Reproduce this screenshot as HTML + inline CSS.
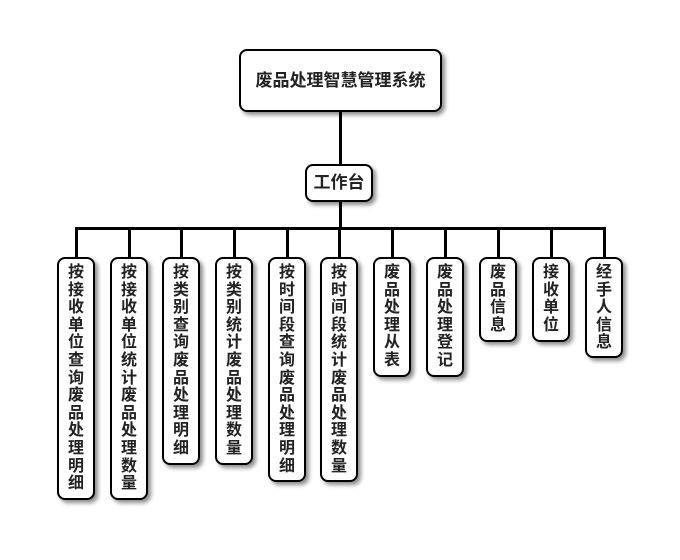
<!DOCTYPE html>
<html><head><meta charset="utf-8"><style>
body{margin:0;width:680px;height:560px;background:#fff;position:relative;font-family:"Liberation Sans","Noto Sans CJK SC",sans-serif;}
.b{position:absolute;background:#fff;border:2px solid #000;border-radius:8px;box-shadow:3px 3px 4px rgba(0,0,0,.45);box-sizing:border-box;font-weight:bold;color:#222;text-align:center;}
.v{width:38px;top:257px;font-size:16px;line-height:17.6px;padding-top:5px;}
.v span{display:block;width:17px;margin:0 auto;word-break:break-all;}
.l{position:absolute;background:#000;}
</style></head><body>
<div class="l" style="left:339px;top:112px;width:3px;height:52px"></div>
<div class="l" style="left:339px;top:202px;width:3px;height:28px"></div>
<div class="l" style="left:75px;top:227px;width:531px;height:3px"></div>
<div class="l" style="left:75px;top:227px;width:3px;height:30px"></div>
<div class="l" style="left:128px;top:227px;width:3px;height:30px"></div>
<div class="l" style="left:180px;top:227px;width:3px;height:30px"></div>
<div class="l" style="left:233px;top:227px;width:3px;height:30px"></div>
<div class="l" style="left:286px;top:227px;width:3px;height:30px"></div>
<div class="l" style="left:338px;top:227px;width:3px;height:30px"></div>
<div class="l" style="left:391px;top:227px;width:3px;height:30px"></div>
<div class="l" style="left:444px;top:227px;width:3px;height:30px"></div>
<div class="l" style="left:497px;top:227px;width:3px;height:30px"></div>
<div class="l" style="left:550px;top:227px;width:3px;height:30px"></div>
<div class="l" style="left:603px;top:227px;width:3px;height:30px"></div>
<div class="b" style="left:239px;top:49px;width:203px;height:63px;font-size:17px;line-height:59px">废品处理智慧管理系统</div>
<div class="b" style="left:305px;top:164px;width:68px;height:38px;font-size:17px;line-height:34px">工作台</div>
<div class="b v" style="left:57px;height:243px"><span>按接收单位查询废品处理明细</span></div>
<div class="b v" style="left:110px;height:243px"><span>按接收单位统计废品处理数量</span></div>
<div class="b v" style="left:162px;height:208px"><span>按类别查询废品处理明细</span></div>
<div class="b v" style="left:215px;height:208px"><span>按类别统计废品处理数量</span></div>
<div class="b v" style="left:268px;height:225px"><span>按时间段查询废品处理明细</span></div>
<div class="b v" style="left:320px;height:225px"><span>按时间段统计废品处理数量</span></div>
<div class="b v" style="left:373px;height:120px"><span>废品处理从表</span></div>
<div class="b v" style="left:426px;height:120px"><span>废品处理登记</span></div>
<div class="b v" style="left:479px;height:85px"><span>废品信息</span></div>
<div class="b v" style="left:532px;height:85px"><span>接收单位</span></div>
<div class="b v" style="left:585px;height:101px"><span>经手人信息</span></div>
</body></html>
